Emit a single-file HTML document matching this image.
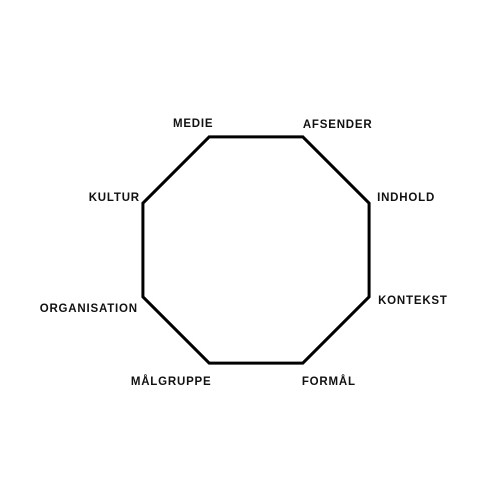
<!DOCTYPE html>
<html><head><meta charset="utf-8"><style>
html,body{margin:0;padding:0;background:#fff;width:500px;height:500px;overflow:hidden}
text{font-family:"Liberation Sans",sans-serif;font-weight:bold;font-size:11.5px;letter-spacing:0.8px;fill:#111}
</style></head><body>
<svg id="chart" width="500" height="500" viewBox="0 0 500 500"></svg>
<script>
const categories=["MEDIE","AFSENDER","INDHOLD","KONTEKST","FORMÅL","MÅLGRUPPE","ORGANISATION","KULTUR"];
const values=[1,1,1,1,1,1,1,1];
const cx=256,cy=250,R=122.4;
const svg=document.getElementById('chart');
const NS='http://www.w3.org/2000/svg';
function pt(i,v){const a=(-112.5+45*i)*Math.PI/180;return [cx+R*v*Math.cos(a),cy+R*v*Math.sin(a)];}
const pts=categories.map((c,i)=>pt(i,values[i]));
const poly=document.createElementNS(NS,'polygon');
poly.setAttribute('points',pts.map(p=>p.join(',')).join(' '));
poly.setAttribute('fill','none');poly.setAttribute('stroke','#000');poly.setAttribute('stroke-width','3');
poly.setAttribute('stroke-linejoin','miter');


svg.appendChild(poly);
const lab=[[-16,-10,'middle'],[0,-9,'start'],[8,-2,'start'],[9,7,'start'],[-1,22,'start'],[-38,22,'middle'],[-5,15,'end'],[-3,-2,'end']];
categories.forEach((c,i)=>{
  const t=document.createElementNS(NS,'text');
  t.setAttribute('x',pts[i][0]+lab[i][0]);t.setAttribute('y',pts[i][1]+lab[i][1]);
  t.setAttribute('text-anchor',lab[i][2]);
  t.textContent=c;
  
  
  svg.appendChild(t);
});
</script>
</body></html>
